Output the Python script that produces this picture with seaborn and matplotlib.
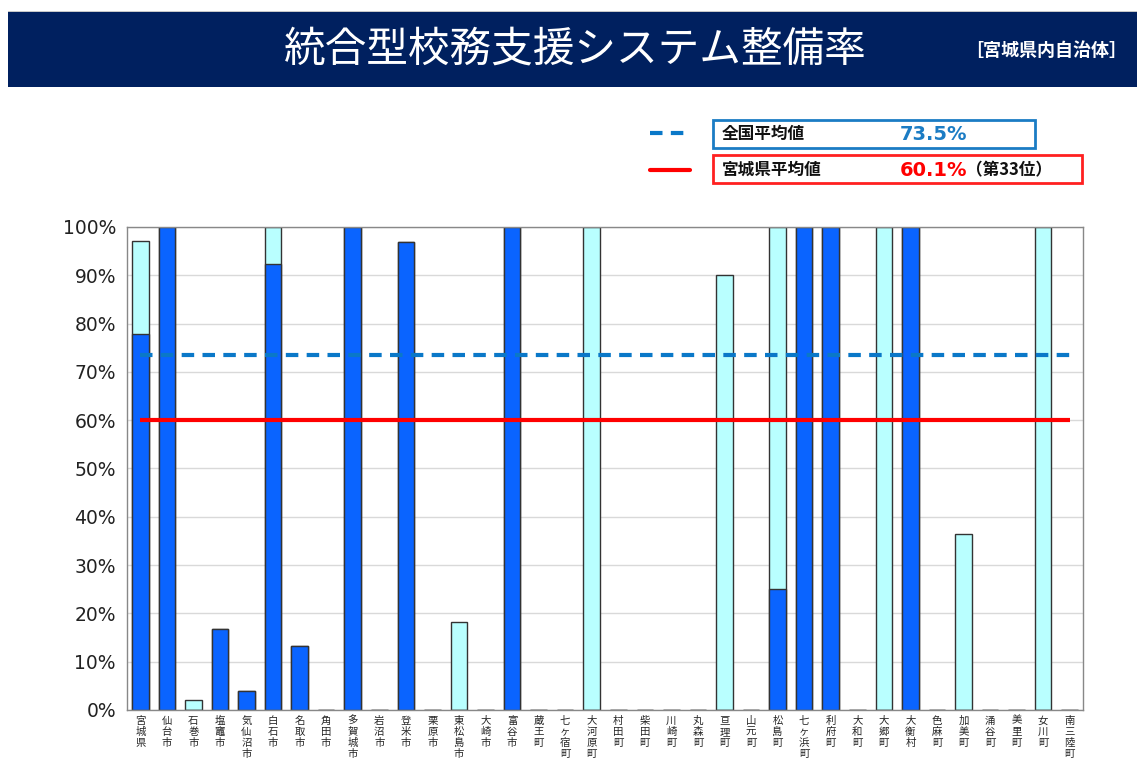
import pandas as pd
import matplotlib.pyplot as plt
import seaborn as sns
from matplotlib.patches import Rectangle
from matplotlib.lines import Line2D

# Municipalities in Miyagi prefecture
cities = ["宮城県", "仙台市", "石巻市", "塩竈市", "気仙沼市", "白石市", "名取市", "角田市",
          "多賀城市", "岩沼市", "登米市", "栗原市", "東松島市", "大崎市", "富谷市", "蔵王町",
          "七ヶ宿町", "大河原町", "村田町", "柴田町", "川崎町", "丸森町", "亘理町", "山元町",
          "松島町", "七ヶ浜町", "利府町", "大和町", "大郷町", "大衡村", "色麻町", "加美町",
          "涌谷町", "美里町", "女川町", "南三陸町"]

# dark blue part (%)
dark = [77.8, 100, 0, 16.7, 4.0, 92.3, 13.3, 0,
        100, 0, 96.8, 0, 0, 0, 100, 0,
        0, 0, 0, 0, 0, 0, 0, 0,
        25.0, 100, 100, 0, 0, 100, 0, 0,
        0, 0, 0, 0]

# light cyan part stacked on top (%)
light = [19.2, 0, 2.0, 0, 0, 7.7, 0, 0,
         0, 0, 0, 0, 18.2, 0, 0, 0,
         0, 100, 0, 0, 0, 0, 90.0, 0,
         75.0, 0, 0, 0, 100, 0, 0, 36.4,
         0, 0, 100, 0]

national_avg = 73.5
pref_avg = 60.1
pref_rank = 33

df = pd.DataFrame({"city": cities, "dark": dark, "light": light})
df["total"] = df["dark"] + df["light"]
df["label"] = ["\n".join(c) for c in df["city"]]

sns.set_style("white")
plt.rcParams["font.family"] = ["Noto Sans CJK JP", "DejaVu Sans"]

fig = plt.figure(figsize=(11.37, 7.65), dpi=100)
ax = fig.add_axes([0.1117, 0.0719, 0.8408, 0.6314])

# total first (light), then dark part over it
sns.barplot(data=df, x="label", y="total", color="#B9FFFF", saturation=1,
            width=0.62, edgecolor="#333333", linewidth=1, ax=ax)
sns.barplot(data=df, x="label", y="dark", color="#0A64FF", saturation=1,
            width=0.62, edgecolor="#333333", linewidth=1, ax=ax)

n = len(cities)
ax.hlines(national_avg, 0, n - 1, colors="#0A78C8", linestyles=(0, (3, 2)), linewidth=3, zorder=5)
ax.hlines(pref_avg, 0, n - 1, colors="#FF0000", linewidth=3, zorder=5)

ax.set_ylim(0, 100)
ax.set_xlim(-0.5, n - 0.5)
ax.set_yticks(range(0, 101, 10))
ax.set_yticklabels([f"{v}%" for v in range(0, 101, 10)], fontsize=13.5, color="#222222",
                   family="DejaVu Sans")
ax.tick_params(axis="x", labelsize=7.5, length=0, pad=4)
ax.tick_params(axis="y", length=0, pad=8)
for t in ax.get_xticklabels():
    t.set_verticalalignment("top")
    t.set_linespacing(1.15)
ax.yaxis.grid(True, color="#D9D9D9", linewidth=1)
ax.set_axisbelow(True)
ax.set_xlabel("")
ax.set_ylabel("")
for s in ax.spines.values():
    s.set_color("#888888")
    s.set_linewidth(1)

# header band
fig.patches.append(Rectangle((8 / 1137, 1 - 13 / 765), 1, 2 / 765, transform=fig.transFigure,
                             facecolor="#C8C8C8", edgecolor="none", zorder=0))
fig.patches.append(Rectangle((8 / 1137, 1 - 87 / 765), 1, 75 / 765, transform=fig.transFigure,
                             facecolor="#00205F", edgecolor="none", zorder=0))
fig.text(575 / 1137, 1 - 50 / 765, "統合型校務支援システム整備率", color="white",
         fontsize=30, ha="center", va="center")
fig.text(965 / 1137, 1 - 50 / 765, "［宮城県内自治体］", color="white", fontsize=13,
         fontweight="bold", ha="left", va="center")

# legend boxes
fig.lines.append(Line2D([650 / 1137, 690 / 1137], [1 - 133 / 765] * 2, transform=fig.transFigure,
                        color="#0A78C8", linewidth=3, linestyle=(0, (3, 2))))
fig.lines.append(Line2D([650 / 1137, 690 / 1137], [1 - 170 / 765] * 2, transform=fig.transFigure,
                        color="#FF0000", linewidth=3))
fig.patches.append(Rectangle((713 / 1137, 1 - 148 / 765), 322 / 1137, 28 / 765,
                             transform=fig.transFigure, facecolor="white",
                             edgecolor="#1B7CC4", linewidth=2))
fig.patches.append(Rectangle((713 / 1137, 1 - 183 / 765), 369 / 1137, 28 / 765,
                             transform=fig.transFigure, facecolor="white",
                             edgecolor="#FF2020", linewidth=2))
fig.text(722 / 1137, 1 - 134 / 765, "全国平均値", fontsize=12, fontweight="bold",
         ha="left", va="center", color="#111111")
fig.text(900 / 1137, 1 - 134 / 765, f"{national_avg}%", fontsize=14, fontweight="bold",
         ha="left", va="center", color="#1B7CC4", family="DejaVu Sans")
fig.text(722 / 1137, 1 - 170 / 765, "宮城県平均値", fontsize=12, fontweight="bold",
         ha="left", va="center", color="#111111")
fig.text(900 / 1137, 1 - 170 / 765, f"{pref_avg}%", fontsize=14, fontweight="bold",
         ha="left", va="center", color="#FF0000", family="DejaVu Sans")
fig.text(966 / 1137, 1 - 170 / 765, f"（第{pref_rank}位）", fontsize=12, fontweight="bold",
         ha="left", va="center", color="#111111")

plt.savefig("out.png", dpi=100)
